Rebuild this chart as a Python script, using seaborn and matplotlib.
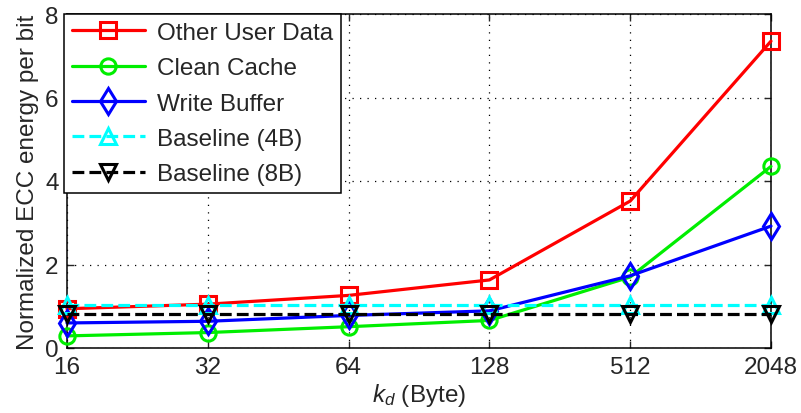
import matplotlib
matplotlib.use("Agg")
import matplotlib.pyplot as plt
import seaborn as sns
import pandas as pd

categories = ["16", "32", "64", "128", "512", "2048"]
other_user = [0.94, 1.05, 1.26, 1.63, 3.52, 7.35]
clean_cache = [0.29, 0.37, 0.51, 0.66, 1.70, 4.35]
write_buffer = [0.60, 0.64, 0.78, 0.89, 1.73, 2.92]
baseline_4b = [1.03, 1.03, 1.03, 1.03, 1.03, 1.03]
baseline_8b = [0.82, 0.82, 0.82, 0.82, 0.82, 0.82]

series_names = ["Other User Data", "Clean Cache", "Write Buffer", "Baseline (4B)", "Baseline (8B)"]
series_vals = [other_user, clean_cache, write_buffer, baseline_4b, baseline_8b]
colors = ["#ff0000", "#00ee00", "#0000ff", "#00ffff", "#000000"]
markers = ["s", "o", "d", "^", "v"]
styles = ["-", "-", "-", "--", "--"]
msizes = [11, 11, 13, 12, 12]

sns.set_style("ticks")
plt.rcParams["font.family"] = ["Liberation Sans", "DejaVu Sans"]
plt.rcParams["mathtext.fontset"] = "custom"
plt.rcParams["mathtext.it"] = "Liberation Sans:italic"
plt.rcParams["mathtext.rm"] = "Liberation Sans"

fig = plt.figure(figsize=(8.01, 4.14), dpi=100)
ax = fig.add_axes([67 / 801, 65 / 414, 704 / 801, 334 / 414])

pos = list(range(len(categories)))
for name, vals, c, m, ls, ms in zip(series_names, series_vals, colors, markers, styles, msizes):
    df = pd.DataFrame({"x": pos, "y": vals})
    sns.lineplot(data=df, x="x", y="y", ax=ax, color=c, marker=m, linestyle=ls,
                 linewidth=2.3, markersize=ms, markerfacecolor="none",
                 markeredgecolor=c, markeredgewidth=2.2, label=name,
                 dashes=False if ls == "-" else (4, 2.2), clip_on=False, zorder=3)

ax.set_xlim(0, 5)
ax.set_ylim(0, 8)
ax.set_xticks(pos)
ax.set_xticklabels(categories)
ax.set_yticks([0, 2, 4, 6, 8])
ax.tick_params(direction="in", length=5, labelsize=17.5, top=True, right=True,
               pad=6, width=1)
ax.grid(True, linestyle=(0, (1, 5)), color="black", linewidth=0.9)
for s in ax.spines.values():
    s.set_visible(True)
    s.set_linewidth(1.1)
    s.set_color("black")
ax.set_ylabel("Normalized ECC energy per bit", fontsize=17.5, labelpad=4)
ax.set_xlabel("$k_d$ (Byte)", fontsize=17.5, labelpad=2)

leg = ax.legend(loc="upper left", bbox_to_anchor=(-0.004, 1.0), fontsize=17.5,
                frameon=True, fancybox=False, edgecolor="black", framealpha=1,
                handlelength=3.0, borderpad=0.32, labelspacing=0.55,
                handletextpad=0.5, borderaxespad=0)
leg.get_frame().set_linewidth(1.1)
leg.set_zorder(5)

fig.savefig("out.png", dpi=100)
